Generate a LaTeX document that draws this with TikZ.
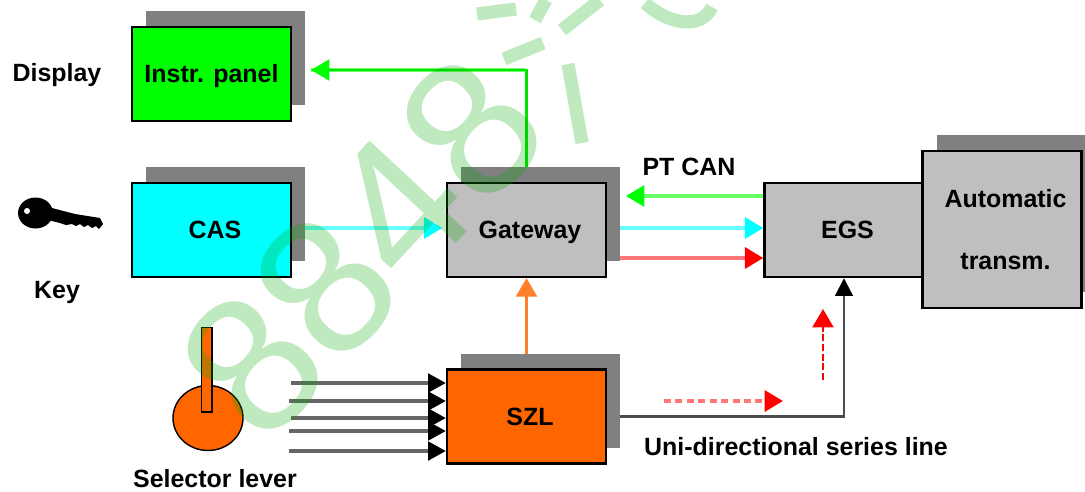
\documentclass[tikz,border=0pt]{standalone}
\usepackage{fontspec}
\setmainfont{Liberation Sans}
\usetikzlibrary{arrows.meta,shadows,backgrounds}
\definecolor{panelgreen}{HTML}{00FF00}
\definecolor{panelcyan}{HTML}{00FFFF}
\definecolor{szlorange}{HTML}{FF6600}
\definecolor{boxgray}{HTML}{BFBFBF}
\definecolor{shadowgray}{HTML}{808080}
\definecolor{softgreen}{HTML}{66FF66}
\definecolor{softcyan}{HTML}{66FFFF}
\definecolor{softred}{HTML}{FF7777}
\definecolor{softorange}{HTML}{FF7F2A}
\tikzset{
  unitbox/.style={draw=black,line width=1.4pt,minimum width=3.18cm,minimum height=1.88cm,
    inner sep=0pt,font=\fontsize{14.2}{16}\selectfont\bfseries},
  shadowbox/.style={unitbox,general shadow={fill=shadowgray,shadow xshift=.28cm,shadow yshift=.32cm}},
  onerow/.style={text height=10pt,text depth=0pt},
  nudged/.style={execute at begin node={\hspace{4pt}}},
  sidetext/.style={font=\fontsize{14.2}{16}\selectfont\bfseries,inner sep=0pt},
  busline/.style 2 args={draw=#1,line width=1.9pt,-{Triangle[length=10.5pt,width=12pt,color=#2]}},
  leverline/.style={draw=shadowgray!80!black,line width=1.8pt,-{Triangle[length=10pt,width=10.5pt,color=black]}},
  wmark/.style={draw=green!65!black,opacity=.25,line width=7.5pt},
}
\begin{document}
\begin{tikzpicture}[x=.02cm,y=-.02cm]
\useasboundingbox (0,0) rectangle (1085,491);
% units
\node[shadowbox,onerow,fill=panelgreen] (instr) at (211.5,74) {Instr. panel};
\node[shadowbox,onerow,nudged,fill=panelcyan] (cas) at (211.5,230) {CAS};
\node[shadowbox,onerow,nudged,fill=boxgray] (gateway) at (526.5,230) {Gateway};
\node[shadowbox,onerow,nudged,fill=szlorange] (szl) at (526.5,416.5) {SZL};
\node[unitbox,onerow,nudged,fill=boxgray] (egs) at (844,230) {EGS};
\node[shadowbox,nudged,fill=boxgray,minimum height=3.14cm,align=center] (autotrans) at (1002,229.5)
  {Automatic\\[19pt]transm.};
% labels
\node[sidetext] (displaylabel) at (57,75) {Display};
\node[sidetext] (keylabel) at (57,292) {Key};
\node[sidetext] (leverlabel) at (215,479) {Selector lever};
\node[sidetext] (canlabel) at (689,167) {PT CAN};
\node[sidetext] (serieslabel) at (796,447) {Uni-directional series line};
% key
\fill (35.5,213) ellipse (17.5 and 15.5);
\fill (48,207)--(75,214)--(100,218)--(103,224)--(99,229)--(96,226)--(92,228)--(88,225)--(84,227)--(80,224)--(76,226)--(72,224)--(66,225)--(60,223)--(48,220)--cycle;
\fill[white] (27,211) circle (3);
% selector lever
\draw[fill=szlorange,line width=.8pt] (208,418) ellipse (35 and 32.5);
\draw[fill=szlorange,line width=1pt] (201.5,327.5) rectangle (212,412);
% free ends
\coordinate (instrtip) at (311,70);
\coordinate (cantip) at (626,196);
\coordinate (cyanrow) at (0,228);
\coordinate (redrow) at (0,258);
\coordinate (redtail) at (664,401);
\coordinate (redhead) at (783,401);
\coordinate (uptail) at (823,380);
\coordinate (uphead) at (823,309);
\foreach \n/\xs/\yy in {1/291/383,2/289/401,3/291/418,4/289/431,5/289/451}{
  \coordinate (lever\n) at (\xs,\yy);
  \draw[leverline] (lever\n) -- (szl.west |- lever\n);
}
\begin{scope}[on background layer]
\draw[draw=softgreen,line width=1.9pt] (instrtip) -- (525,70);
\draw[busline={softgreen}{panelgreen},draw=panelgreen!90!black,line width=1.2pt] (gateway.north) |- (instrtip);
\draw[busline={softcyan}{panelcyan},shorten >=2pt] (cas.east |- cyanrow) -- (gateway.west |- cyanrow);
\draw[busline={softcyan}{panelcyan}] (gateway.east |- cyanrow) -- (egs.west |- cyanrow);
\draw[busline={softred}{red}] (gateway.east |- redrow) -- (egs.west |- redrow);
\draw[busline={softgreen}{panelgreen}] (egs.west |- cantip) -- (cantip);
\draw[busline={softorange}{softorange},line width=1.3pt] (szl.north) -- (gateway.south);
\draw[draw=black!70,line width=1.3pt,-{Triangle[length=10pt,width=10pt,color=black]}] (szl.east) -| (egs.south);
\draw[busline={softred}{red},dash pattern=on 4pt off 2.5pt] (redtail) -- (redhead);
\draw[busline={red}{red},line width=1.2pt,dash pattern=on 4pt off 1.5pt] (uptail) -- (uphead);
\end{scope}
% watermark
\node[text=green!65!black,text opacity=.25,font=\fontsize{110}{110}\selectfont,rotate=47,inner sep=0pt] (mark) at (362,247) {8848};
\draw[wmark] (568,64) -- (582,143);
\draw[wmark] (504,59) -- (543,43);
\draw[wmark] (477,14) -- (516,9);
\draw[wmark] (535,20) -- (546,0);
\draw[wmark] (562,30) -- (600,0);
\draw[wmark] (645,3) .. controls (665,22) and (700,32) .. (712,7);
\end{tikzpicture}
\end{document}
